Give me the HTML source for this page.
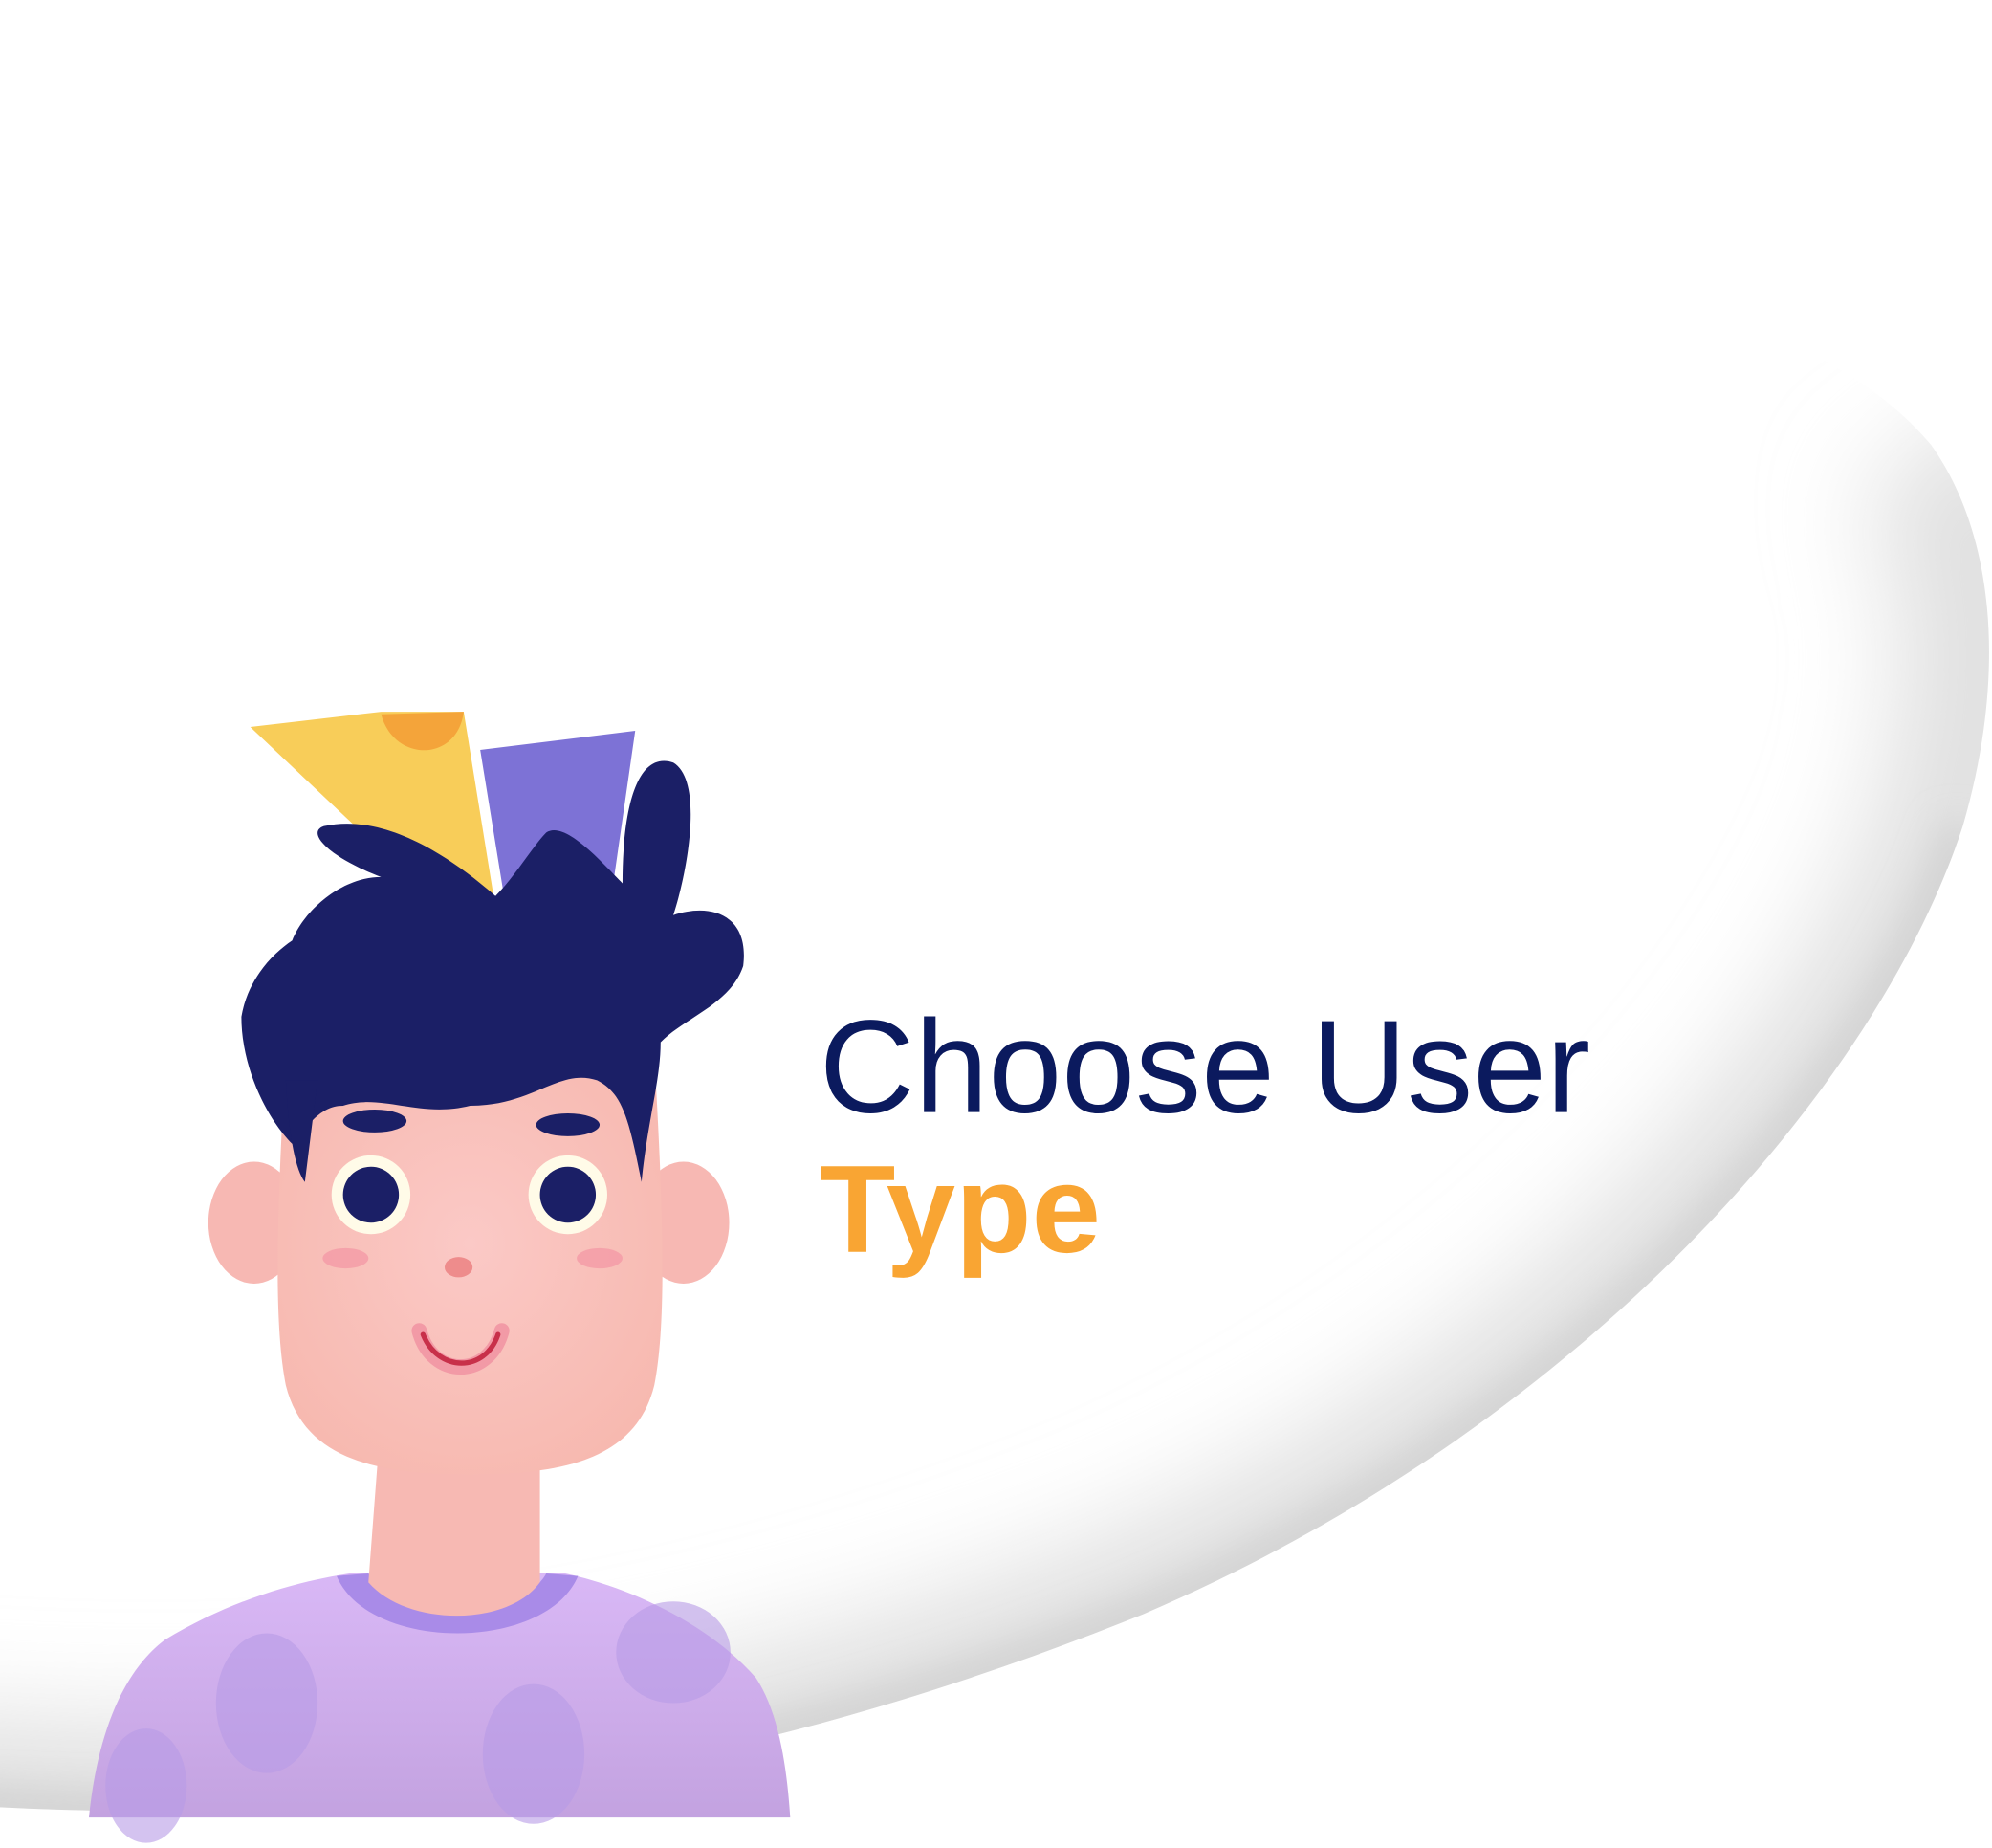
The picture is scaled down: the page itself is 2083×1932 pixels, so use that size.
<!DOCTYPE html>
<html><head><meta charset="utf-8"><style>
html,body{margin:0;padding:0;background:#fff;}
svg{display:block;}
</style></head><body>
<svg width="2083" height="1932" viewBox="0 0 1568 1454" preserveAspectRatio="none" xmlns="http://www.w3.org/2000/svg">
<defs>
<clipPath id="shape"><path d="M-100,1415 C300,1450 600,1390 900,1270 C1250,1120 1480,850 1545,650 C1580,530 1570,420 1520,350 C1470,290 1380,250 1300,240 L1300,-100 L-100,-100 Z"/></clipPath>
<filter id="bl" filterUnits="userSpaceOnUse" x="-400" y="-400" width="2400" height="2400"><feGaussianBlur stdDeviation="40"/></filter>
<filter id="bl2" filterUnits="userSpaceOnUse" x="-400" y="-400" width="2400" height="2400"><feGaussianBlur stdDeviation="14"/></filter>
<radialGradient id="face" cx="50%" cy="45%" r="60%"><stop offset="0" stop-color="#fbc9c6"/><stop offset="1" stop-color="#f7b9b0"/></radialGradient>
<linearGradient id="shirt" x1="0" y1="0" x2="0" y2="1"><stop offset="0" stop-color="#d9b8f6"/><stop offset="1" stop-color="#c3a2e0"/></linearGradient>
</defs>
<rect width="1568" height="1454" fill="#fff"/>
<g clip-path="url(#shape)">
<path d="M-100,1415 C300,1450 600,1390 900,1270 C1250,1120 1480,850 1545,650 C1580,530 1570,420 1520,350" fill="none" stroke="#e0e0e0" stroke-width="140" filter="url(#bl)"/>
<path d="M-100,1415 C300,1450 600,1390 900,1270 C1250,1120 1480,850 1545,650" fill="none" stroke="#cfcfcf" stroke-width="24" filter="url(#bl2)"/>
</g>
<!-- shirt -->
<path d="M70,1430 C75,1380 90,1320 130,1290 C180,1260 230,1245 275,1238 L445,1238 C500,1250 560,1280 595,1320 C615,1350 620,1400 622,1430 Z" fill="url(#shirt)"/>
<path d="M265,1240 C290,1300 430,1300 455,1240 L430,1238 C410,1275 310,1275 290,1238 Z" fill="#a98be8"/>
<ellipse cx="210" cy="1340" rx="40" ry="55" fill="#b79be6" opacity="0.6"/>
<ellipse cx="420" cy="1380" rx="40" ry="55" fill="#b79be6" opacity="0.6"/>
<ellipse cx="530" cy="1300" rx="45" ry="40" fill="#b79be6" opacity="0.6"/>
<ellipse cx="115" cy="1405" rx="32" ry="45" fill="#b79be6" opacity="0.6"/>
<!-- neck -->
<path d="M298,1140 L425,1140 L425,1245 C400,1280 320,1280 290,1245 Z" fill="#f7b9b3"/>
<!-- ears -->
<ellipse cx="200" cy="962" rx="36" ry="48" fill="#f7b8b3"/>
<ellipse cx="538" cy="962" rx="36" ry="48" fill="#f7b8b3"/>
<!-- face -->
<path d="M225,830 L515,830 C522,950 525,1040 515,1090 C500,1150 440,1160 370,1160 C300,1160 240,1150 225,1090 C215,1040 218,950 225,830 Z" fill="url(#face)"/>
<!-- hat -->
<path d="M197,572 L300,560 L365,560 L395,745 L380,745 Z" fill="#f8cd59"/>
<path d="M300,562 C310,600 360,600 365,560 Z" fill="#f4a43a"/>
<path d="M378,590 L500,575 L482,700 L478,730 L400,725 Z" fill="#7d72d6"/>
<!-- hair -->
<g fill="#1b1f66">
<path d="M190,800 C195,770 215,750 230,740 C240,715 270,690 300,690 C260,675 240,655 255,650 C300,640 350,670 390,705 C405,690 420,665 430,655 C445,645 475,680 490,695 C490,640 500,590 530,600 C555,615 540,690 530,720 C560,710 590,720 585,760 C575,790 540,800 520,820 C520,850 510,880 505,930 C495,880 490,860 470,850 C440,840 420,870 370,870 C330,880 300,860 270,870 C250,870 240,890 230,900 C210,880 190,840 190,800 Z"/>
<path d="M225,850 L250,850 L240,930 C232,920 227,890 225,850 Z"/>
</g>
<!-- eyebrows -->
<ellipse cx="295" cy="882" rx="25" ry="9" fill="#1b1f66"/>
<ellipse cx="447" cy="885" rx="25" ry="9" fill="#1b1f66"/>
<!-- eyes -->
<circle cx="292" cy="940" r="31" fill="#fffbe8"/>
<circle cx="292" cy="940" r="22" fill="#1b1f66"/>
<circle cx="447" cy="940" r="31" fill="#fffbe8"/>
<circle cx="447" cy="940" r="22" fill="#1b1f66"/>
<!-- blush, nose, mouth -->
<ellipse cx="272" cy="990" rx="18" ry="8" fill="#f49aa6" opacity="0.8"/>
<ellipse cx="472" cy="990" rx="18" ry="8" fill="#f49aa6" opacity="0.8"/>
<ellipse cx="361" cy="997" rx="11" ry="8" fill="#ee8c8c"/>
<path d="M330,1047 C340,1085 385,1085 395,1047" fill="none" stroke="#f29aa6" stroke-width="12" stroke-linecap="round"/>
<path d="M333,1050 C345,1080 382,1080 392,1050" fill="none" stroke="#c8304a" stroke-width="4" stroke-linecap="round"/>
<!-- text -->
<text x="645" y="875" font-family="Liberation Sans, sans-serif" font-size="104" fill="#0b1a5e">Choose User</text>
<text x="645" y="985" font-family="Liberation Sans, sans-serif" font-size="98" font-weight="bold" fill="#f9a533">Type</text>
</svg>
</body></html>
